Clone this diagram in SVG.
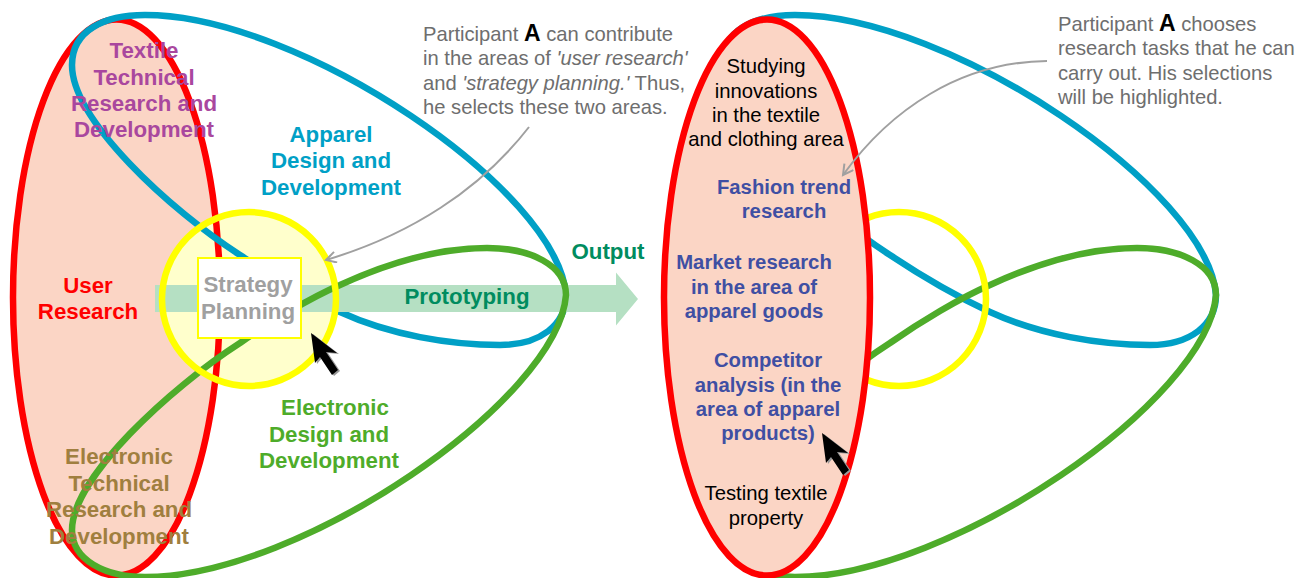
<svg xmlns="http://www.w3.org/2000/svg" width="1312" height="578" viewBox="0 0 1312 578">
<style>
text{font-family:"Liberation Sans",Arial,sans-serif;text-anchor:middle}
.b{font-weight:700;font-size:22.3px}
.n{font-weight:700;font-size:20.3px;fill:#3F4FA3}
.k{font-size:20.3px;fill:#000}
.g{font-size:20.2px;fill:#6E6E6E;text-anchor:start}
.g tspan.a{font-weight:700;font-size:23px;fill:#000}
.g tspan.i{font-style:italic}
.red{fill:#FBD5C5;stroke:#FF0000;stroke-width:6.5}
.blue{fill:none;stroke:#00A0C6;stroke-width:6.5}
.green{fill:none;stroke:#4EAC2A;stroke-width:6.5}
.ring{fill:none;stroke:#FFFF00;stroke-width:6.5}
.lead{fill:none;stroke:#A0A0A0;stroke-width:2}
</style>
<defs>
<path id="bl" d="M240 255C170 210 72 120 72 65C72 30 105 15 145 15C300 15 558 190 566 295C566 325 540 345 500 345C450 345 390 335 340 312C310 298 270 275 240 255Z"/>
<path id="gr" d="M240 343C170 388 72 478 72 530C72 560 105 577 145 577C300 577 558 400 566 295C566 265 530 248 487 248C440 248 390 262 340 285C310 298 270 322 240 343Z"/>
<path id="cur" d="M0 0L4 30L9 24L21 42L27 37L15 19L26 20Z"/>
<marker id="op" markerWidth="14" markerHeight="14" refX="11" refY="6" orient="auto" markerUnits="userSpaceOnUse"><path d="M1 0.5L11 6L1 11.5" fill="none" stroke="#A0A0A0" stroke-width="2"/></marker>
</defs>
<g id="left-user-research"><ellipse cx="116.5" cy="297.5" rx="103.5" ry="278" fill="#FBD5C5"/></g>
<g id="left-strategy-circle"><circle cx="249" cy="299" r="87" fill="#FFFFCC"/></g>
<g id="connectors">
<ellipse cx="116.5" cy="297.5" rx="103.5" ry="278" fill="none" stroke="#FF0000" stroke-width="6.5"/>
<use href="#bl" class="blue"/>
<path id="output-band" d="M155 285H616V272.500L638 299L616 325.500V312H155Z" fill="#B5E0C3"/>
<use href="#gr" class="green"/>
<circle cx="249" cy="299" r="87" class="ring"/>
<path class="lead" marker-end="url(#op)" d="M529 127C480 190 410 235 326 260"/>
</g>
<g id="strategy-box"><rect x="198" y="258" width="103" height="80" fill="#fff" stroke="#FFFF00" stroke-width="2"/>
<text class="b" x="248" y="292" fill="#A0A0A0">Strategy</text><text class="b" x="248" y="319" fill="#A0A0A0">Planning</text></g>
<g id="cursor-left"><use href="#cur" x="313" y="334" fill="#999"/><use href="#cur" x="311" y="333" fill="#000"/></g>
<g id="label-textile"><text class="b" x="144" y="58" fill="#A9479E">Textile</text><text class="b" x="144" y="85" fill="#A9479E">Technical</text><text class="b" x="144" y="111" fill="#A9479E">Research and</text><text class="b" x="144" y="137" fill="#A9479E">Development</text></g>
<g id="label-apparel"><text class="b" x="331" y="142" fill="#00A0C6">Apparel</text><text class="b" x="331" y="168" fill="#00A0C6">Design and</text><text class="b" x="331" y="195" fill="#00A0C6">Development</text></g>
<g id="label-user"><text class="b" x="88" y="293" fill="#FF0000">User</text><text class="b" x="88" y="319" fill="#FF0000">Research</text></g>
<g id="label-electronic"><text class="b" x="335" y="415" fill="#4EAC2A">Electronic</text><text class="b" x="329" y="442" fill="#4EAC2A">Design and</text><text class="b" x="329" y="468" fill="#4EAC2A">Development</text></g>
<g id="label-etech"><text class="b" x="119" y="464" fill="#A07F3F">Electronic</text><text class="b" x="119" y="491" fill="#A07F3F">Technical</text><text class="b" x="119" y="517" fill="#A07F3F">Research and</text><text class="b" x="119" y="544" fill="#A07F3F">Development</text></g>
<g id="label-output"><text class="b" x="608" y="259" fill="#008C5F">Output</text><text class="b" x="467" y="304" fill="#008C5F">Prototyping</text></g>
<g id="callout-left"><text class="g" x="423" y="41">Participant <tspan class="a">A</tspan> can contribute</text><text class="g" x="423" y="65">in the areas of <tspan class="i">'user research'</tspan></text><text class="g" x="423" y="90">and <tspan class="i">'strategy planning.'</tspan> Thus,</text><text class="g" x="423" y="114">he selects these two areas.</text></g>

<g id="right-connectors">
<use href="#bl" class="blue" x="650"/>
<use href="#gr" class="green" x="650"/>
<circle cx="899" cy="299" r="87" class="ring"/>
</g>
<g id="right-user-research"><ellipse cx="767" cy="297.500" rx="103" ry="278" class="red"/>
<text class="k" x="766" y="73">Studying</text><text class="k" x="766" y="98">innovations</text><text class="k" x="766" y="122">in the textile</text><text class="k" x="766" y="146">and clothing area</text>
<text class="n" x="784" y="194">Fashion trend</text><text class="n" x="784" y="218">research</text>
<text class="n" x="754" y="269">Market research</text><text class="n" x="754" y="294">in the area of</text><text class="n" x="754" y="318">apparel goods</text>
<text class="n" x="768" y="367">Competitor</text><text class="n" x="768" y="392">analysis (in the</text><text class="n" x="768" y="416">area of apparel</text><text class="n" x="768" y="440">products)</text>
<text class="k" x="766" y="500">Testing textile</text><text class="k" x="766" y="525">property</text></g>
<g id="cursor-right"><use href="#cur" x="824" y="434" fill="#999"/><use href="#cur" x="822" y="433" fill="#000"/></g>
<g id="callout-right"><text class="g" x="1058" y="31">Participant <tspan class="a">A</tspan> chooses</text><text class="g" x="1058" y="55">research tasks that he can</text><text class="g" x="1058" y="80">carry out. His selections</text><text class="g" x="1058" y="104">will be highlighted.</text>
<path class="lead" marker-end="url(#op)" d="M1047 61C960 62 890 110 843 175"/></g>
</svg>
